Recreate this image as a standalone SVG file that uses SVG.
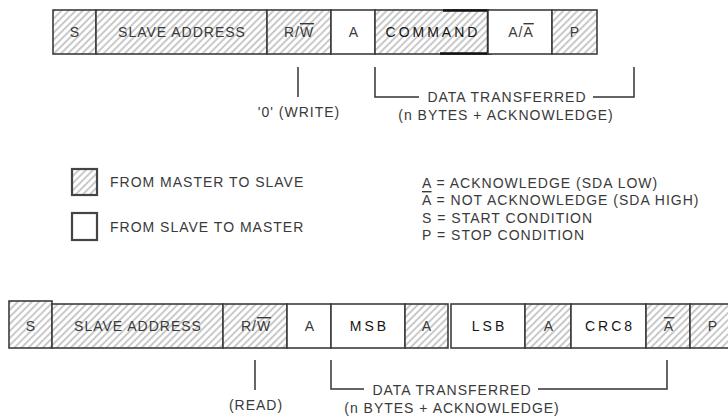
<svg xmlns="http://www.w3.org/2000/svg" width="728" height="417" viewBox="0 0 728 417">
<defs>
<pattern id="hatch" width="5" height="5" patternUnits="userSpaceOnUse" patternTransform="rotate(45)">
<rect width="5" height="5" fill="#ffffff"/>
<line x1="1" y1="0" x2="1" y2="5" stroke="#c4c4c4" stroke-width="1.8"/>
</pattern>
</defs>
<style>
.h{fill:url(#hatch);stroke:#3c3c3c;stroke-width:1.6}
.w{fill:#ffffff;stroke:#3c3c3c;stroke-width:1.6}
.lg{stroke-width:2.2;stroke:#444}
text{font-family:"Liberation Sans",Arial,sans-serif;font-size:14px;fill:#3a3a3a;letter-spacing:1px}
.c{text-anchor:middle}
.d{fill:#141414;letter-spacing:3px}
.ol{text-decoration:overline}
.ln{fill:none;stroke:#333;stroke-width:1.5}
</style>
<rect width="728" height="417" fill="#ffffff"/>

<g id="top-frame">
<g id="t-s"><rect class="h" x="53" y="10" width="43" height="44"/><text class="c" x="75" y="37">S</text></g>
<g id="t-addr"><rect class="h" x="96" y="10" width="171" height="44"/><text class="c" x="182" y="37">SLAVE ADDRESS</text></g>
<g id="t-rw"><rect class="h" x="267" y="10" width="64" height="44"/><text class="c" x="299" y="37">R/<tspan class="ol">W</tspan></text></g>
<g id="t-a"><rect class="w" x="331" y="10" width="44" height="44"/><text class="c" x="354" y="37">A</text></g>
<g id="t-cmd"><rect class="h" x="375" y="10" width="113" height="44"/><path d="M443 10.5H488V54M440 53.5H492" fill="none" stroke="#111" stroke-width="2.4"/><text class="c d" x="433" y="37">COMMAND</text></g>
<g id="t-ana"><rect class="w" x="488" y="10" width="64" height="44"/><text class="c" x="521" y="37">A/<tspan class="ol">A</tspan></text></g>
<g id="t-p"><rect class="h" x="552" y="10" width="45" height="44"/><text class="c" x="575" y="37">P</text></g>
</g>

<g id="bottom-frame">
<g id="b-s"><rect class="h" x="9" y="301" width="43" height="47"/><text class="c" x="31" y="331">S</text></g>
<g id="b-addr"><rect class="h" x="52" y="304" width="171" height="44"/><text class="c" x="138" y="331">SLAVE ADDRESS</text></g>
<g id="b-rw"><rect class="h" x="223" y="304" width="64" height="44"/><text class="c" x="256" y="331">R/<tspan class="ol">W</tspan></text></g>
<g id="b-a1"><rect class="w" x="287" y="304" width="44" height="44"/><text class="c" x="310" y="331">A</text></g>
<g id="b-msb"><rect class="w" x="331" y="304" width="74" height="44"/><text class="c d" x="369.5" y="331">MSB</text></g>
<g id="b-a2"><rect class="h" x="405" y="304" width="43" height="44"/><text class="c" x="427" y="331">A</text></g>
<g id="b-lsb"><rect class="w" x="451" y="304" width="74" height="44"/><text class="c d" x="489.5" y="331">LSB</text></g>
<g id="b-a3"><rect class="h" x="525" y="304" width="46" height="44"/><text class="c" x="549" y="331">A</text></g>
<g id="b-crc"><rect class="w" x="571" y="304" width="75" height="44"/><text class="c d" x="610" y="331">CRC8</text></g>
<g id="b-na"><rect class="h" x="646" y="304" width="44" height="44"/><text class="c ol" x="669" y="331">A</text></g>
<g id="b-p"><rect class="h" x="690" y="304" width="45" height="44"/><text class="c" x="713" y="331">P</text></g>
</g>

<g id="connectors">
<line class="ln" x1="298" y1="67" x2="298" y2="97"/>
<path class="ln" d="M375 67V97H419"/>
<path class="ln" d="M593 97H634V67"/>
<line class="ln" x1="255" y1="360" x2="255" y2="390"/>
<path class="ln" d="M331 360V389H364"/>
<path class="ln" d="M538 389H667V360"/>
</g>

<g id="top-labels">
<text class="c" x="299" y="117">'0' (WRITE)</text>
<text class="c" x="507" y="102">DATA TRANSFERRED</text>
<text class="c" x="506" y="120">(n BYTES + ACKNOWLEDGE)</text>
</g>

<g id="bottom-labels">
<text class="c" x="256" y="410">(READ)</text>
<text class="c" x="452" y="395">DATA TRANSFERRED</text>
<text class="c" x="452" y="413">(n BYTES + ACKNOWLEDGE)</text>
</g>

<g id="legend">
<g id="legend-master"><rect class="h lg" x="72" y="169" width="25" height="26"/><text x="110" y="187">FROM MASTER TO SLAVE</text></g>
<g id="legend-slave"><rect class="w lg" x="72" y="213" width="25" height="27"/><text x="110" y="232">FROM SLAVE TO MASTER</text></g>
<g id="legend-key">
<text x="422" y="188">A = ACKNOWLEDGE (SDA LOW)</text>
<text x="422" y="205"><tspan class="ol">A</tspan> = NOT ACKNOWLEDGE (SDA HIGH)</text>
<text x="422" y="223">S = START CONDITION</text>
<text x="422" y="240">P = STOP CONDITION</text>
</g>
</g>
</svg>
